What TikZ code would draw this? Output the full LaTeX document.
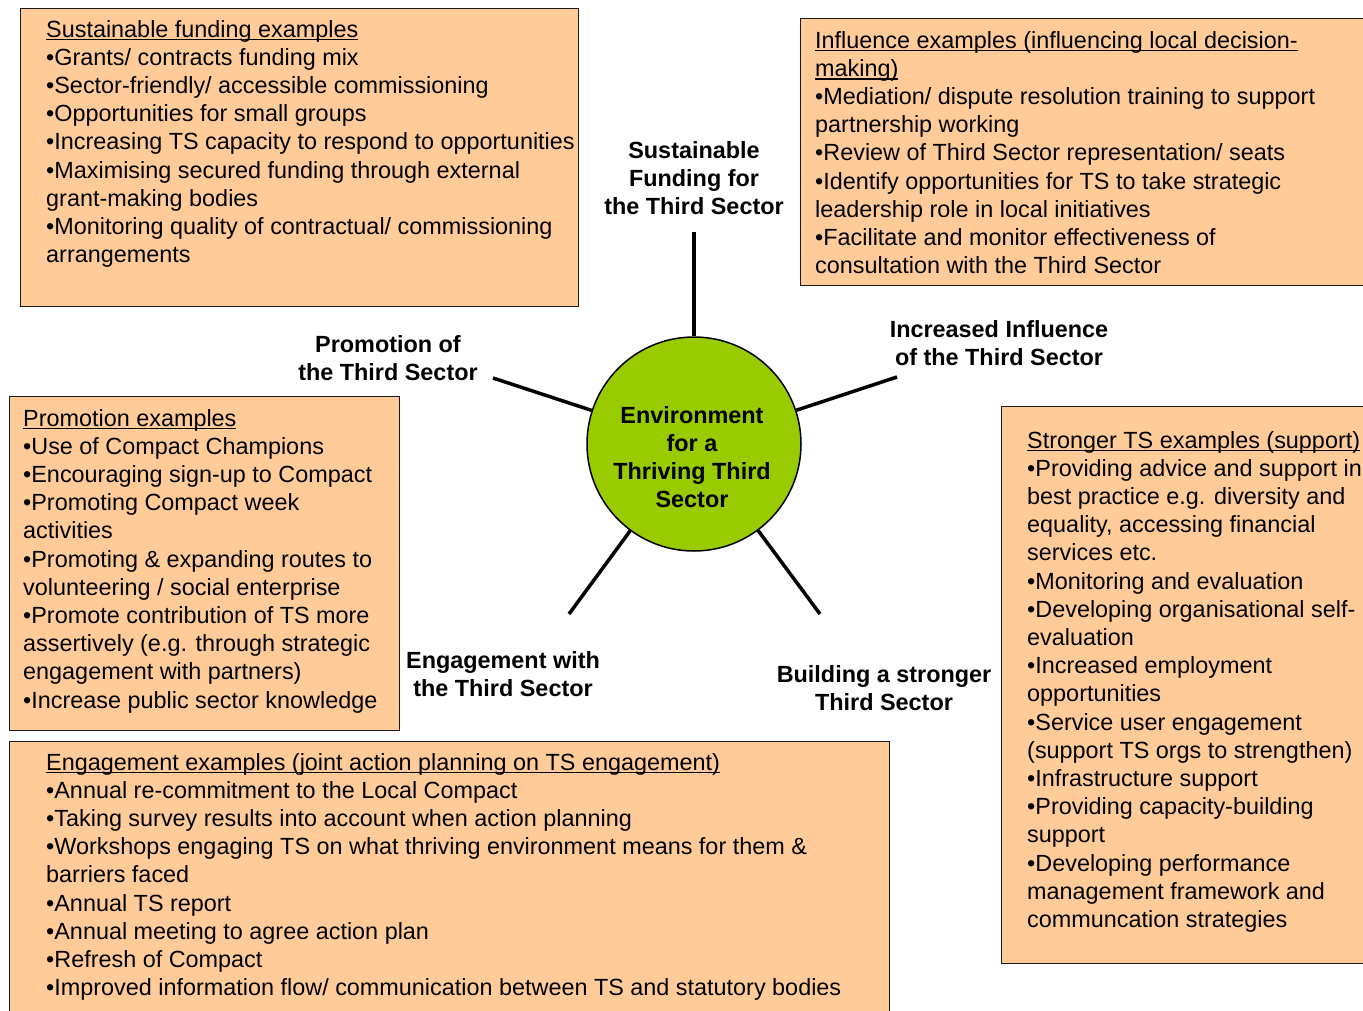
\documentclass[tikz,border=0pt]{standalone}
\usepackage{fontspec}
\setmainfont{Liberation Sans}
\newcommand\myfs{\fontsize{23.4}{28.2}\selectfont}
\newsavebox\myulbox
\newcommand\myul[1]{\sbox\myulbox{#1}\rlap{\rule[-3.4pt]{\wd\myulbox}{1.5pt}}\usebox\myulbox}
\definecolor{peach}{HTML}{FFCC99}
\definecolor{leaf}{HTML}{99CC00}
\definecolor{edge}{HTML}{1A1A1A}
\begin{document}
\begin{tikzpicture}[x=1pt,y=-1pt,
  exbox/.style={draw=edge, line width=1.3pt, fill=peach, anchor=north west, inner sep=0pt},
  extext/.style={anchor=base west, align=left, inner sep=0pt, font=\myfs},
  spoke/.style={draw=black, line width=3.5pt},
  lbl/.style={anchor=base, align=center, inner sep=0pt, font=\myfs\bfseries}]
\useasboundingbox (0,0) rectangle (1363,1010);
\fill[white] (0,0) rectangle (1363,1010);

% example boxes
\node[exbox, minimum width=558pt, minimum height=298pt] (b1) at (20,8) {};
\node[exbox, minimum width=580pt, minimum height=267pt] (b2) at (800,18) {};
\node[exbox, minimum width=390pt, minimum height=334pt] (b3) at (9,396) {};
\node[exbox, minimum width=380pt, minimum height=557pt] (b4) at (1001,406) {};
\node[exbox, minimum width=880pt, minimum height=290pt] (b5) at (9,741) {};

% (anchor base = baseline of the last line)
\node[extext] (t1) at (46,262.6) {\myul{Sustainable funding examples}\\
•Grants/ contracts funding mix\\
•Sector-friendly/ accessible commissioning\\
•Opportunities for small groups\\
•Increasing TS capacity to respond to opportunities\\
•Maximising secured funding through external\\
grant-making bodies\\
•Monitoring quality of contractual/ commissioning\\
arrangements};

\node[extext] (t2) at (815,273.6) {\myul{Influence examples (influencing local decision-}\\
\myul{making)}\\
•Mediation/ dispute resolution training to support\\
partnership working\\
•Review of Third Sector representation/ seats\\
•Identify opportunities for TS to take strategic\\
leadership role in local initiatives\\
•Facilitate and monitor effectiveness of\\
consultation with the Third Sector};

\node[extext] (t3) at (23,708) {\myul{Promotion examples}\\
•Use of Compact Champions\\
•Encouraging sign-up to Compact\\
•Promoting Compact week\\
activities\\
•Promoting \& expanding routes to\\
volunteering / social enterprise\\
•Promote contribution of TS more\\
assertively (e.g. through strategic\\
engagement with partners)\\
•Increase public sector knowledge};

\node[extext] (t4) at (1027,927.4) {\myul{Stronger TS examples (support)}\\
•Providing advice and support in\\
best practice e.g. diversity and\\
equality, accessing financial\\
services etc.\\
•Monitoring and evaluation\\
•Developing organisational self-\\
evaluation\\
•Increased employment\\
opportunities\\
•Service user engagement\\
(support TS orgs to strengthen)\\
•Infrastructure support\\
•Providing capacity-building\\
support\\
•Developing performance\\
management framework and\\
communcation strategies};

\node[extext] (t5) at (46,995.6) {\myul{Engagement examples (joint action planning on TS engagement)}\\
•Annual re-commitment to the Local Compact\\
•Taking survey results into account when action planning\\
•Workshops engaging TS on what thriving environment means for them \&\\
barriers faced\\
•Annual TS report\\
•Annual meeting to agree action plan\\
•Refresh of Compact\\
•Improved information flow/ communication between TS and statutory bodies};

% centre
\node[circle, draw=black, line width=1.5pt, fill=leaf, minimum size=214pt, inner sep=0pt] (env) at (694,444) {};
\node[lbl] (envtext) at (692,507.6) {Environment\\for a\\Thriving Third\\Sector};

% spoke ends
\coordinate (sTop) at (694,232);
\coordinate (sUL) at (493,378);
\coordinate (sUR) at (897,377);
\coordinate (sLL) at (569,614);
\coordinate (sLR) at (820,614);
\draw[spoke] (env) -- (sTop);
\draw[spoke] (env) -- (sUL);
\draw[spoke] (env) -- (sUR);
\draw[spoke] (env) -- (sLL);
\draw[spoke] (env) -- (sLR);

% spoke labels
\node[lbl] (lfund) at (694,214.4) {Sustainable\\Funding for\\the Third Sector};
\node[lbl] (linfl) at (999,365.2) {Increased Influence\\of the Third Sector};
\node[lbl] (lpromo) at (388,380.2) {Promotion of\\the Third Sector};
\node[lbl] (lengage) at (503,696.2) {Engagement with\\the Third Sector};
\node[lbl] (lbuild) at (884,710.2) {Building a stronger\\Third Sector};
\end{tikzpicture}
\end{document}
